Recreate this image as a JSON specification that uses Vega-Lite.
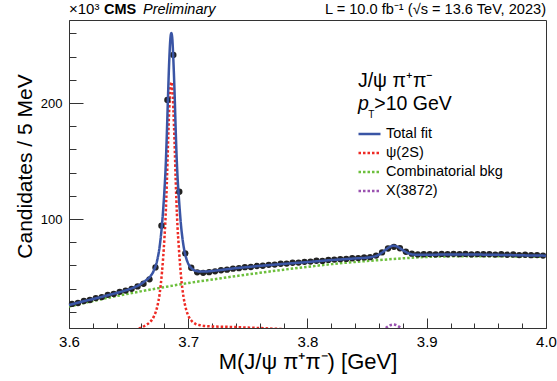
{
  "$schema": "https://vega.github.io/schema/vega-lite/v6.json",
  "width": 477,
  "height": 308,
  "autosize": {"type": "none"},
  "padding": {"left": 69, "top": 20, "right": 11, "bottom": 53},
  "background": "white",
  "config": {
    "font": "Liberation Sans",
    "view": {"stroke": "#333", "strokeWidth": 1},
    "axis": {"domainColor": "#333", "tickColor": "#333", "labelColor": "#000", "titleColor": "#000", "grid": false, "labelFont": "Liberation Sans", "titleFont": "Liberation Sans", "titleFontWeight": "normal", "domainWidth": 1, "tickWidth": 1}
  },
  "resolve": {"axis": {"x": "independent", "y": "independent"}},
  "datasets": {
    "points": [
      {"m": 3.6025, "v": 26.8}, {"m": 3.6075, "v": 27.6}, {"m": 3.6125, "v": 29.3}, {"m": 3.6175, "v": 30.2},
      {"m": 3.6225, "v": 31.8}, {"m": 3.6275, "v": 32.7}, {"m": 3.6325, "v": 34.6}, {"m": 3.6375, "v": 35.4},
      {"m": 3.6425, "v": 37.2}, {"m": 3.6475, "v": 38.3}, {"m": 3.6525, "v": 39.8}, {"m": 3.6575, "v": 41.9},
      {"m": 3.6625, "v": 44.2}, {"m": 3.6675, "v": 48.0}, {"m": 3.6725, "v": 58.3}, {"m": 3.6775, "v": 94.2},
      {"m": 3.6825, "v": 202.6}, {"m": 3.6875, "v": 241.5}, {"m": 3.6925, "v": 123.5}, {"m": 3.6975, "v": 70.4},
      {"m": 3.7025, "v": 58.0}, {"m": 3.7075, "v": 54.0}, {"m": 3.7125, "v": 53.6}, {"m": 3.7175, "v": 54.2},
      {"m": 3.7225, "v": 54.9}, {"m": 3.7275, "v": 55.8}, {"m": 3.7325, "v": 56.3}, {"m": 3.7375, "v": 57.2},
      {"m": 3.7425, "v": 57.6}, {"m": 3.7475, "v": 58.5}, {"m": 3.7525, "v": 58.6}, {"m": 3.7575, "v": 59.5},
      {"m": 3.7625, "v": 59.7}, {"m": 3.7675, "v": 60.5}, {"m": 3.7725, "v": 60.7}, {"m": 3.7775, "v": 61.4},
      {"m": 3.7825, "v": 61.6}, {"m": 3.7875, "v": 62.3}, {"m": 3.7925, "v": 62.4}, {"m": 3.7975, "v": 63.1},
      {"m": 3.8025, "v": 63.3}, {"m": 3.8075, "v": 64.0}, {"m": 3.8125, "v": 63.9}, {"m": 3.8175, "v": 64.7},
      {"m": 3.8225, "v": 65.0}, {"m": 3.8275, "v": 65.4}, {"m": 3.8325, "v": 65.6}, {"m": 3.8375, "v": 66.2},
      {"m": 3.8425, "v": 66.3}, {"m": 3.8475, "v": 66.9}, {"m": 3.8525, "v": 67.1}, {"m": 3.8575, "v": 68.5},
      {"m": 3.8625, "v": 71.2}, {"m": 3.8675, "v": 74.6}, {"m": 3.8725, "v": 76.0}, {"m": 3.8775, "v": 74.8},
      {"m": 3.8825, "v": 71.8}, {"m": 3.8875, "v": 70.1}, {"m": 3.8925, "v": 69.5}, {"m": 3.8975, "v": 69.6},
      {"m": 3.9025, "v": 69.8}, {"m": 3.9075, "v": 69.5}, {"m": 3.9125, "v": 69.9}, {"m": 3.9175, "v": 69.6},
      {"m": 3.9225, "v": 70.0}, {"m": 3.9275, "v": 69.7}, {"m": 3.9325, "v": 69.9}, {"m": 3.9375, "v": 69.5},
      {"m": 3.9425, "v": 69.8}, {"m": 3.9475, "v": 69.6}, {"m": 3.9525, "v": 69.7}, {"m": 3.9575, "v": 69.3},
      {"m": 3.9625, "v": 69.6}, {"m": 3.9675, "v": 69.2}, {"m": 3.9725, "v": 69.4}, {"m": 3.9775, "v": 68.9},
      {"m": 3.9825, "v": 69.2}, {"m": 3.9875, "v": 68.8}, {"m": 3.9925, "v": 68.9}, {"m": 3.9975, "v": 68.5}
    ],
    "curves": [
      {"comp": "Combinatorial bkg", "m": 3.60, "v": 24.5}, {"comp": "Combinatorial bkg", "m": 3.62, "v": 29.3},
      {"comp": "Combinatorial bkg", "m": 3.64, "v": 33.6}, {"comp": "Combinatorial bkg", "m": 3.66, "v": 37.6},
      {"comp": "Combinatorial bkg", "m": 3.68, "v": 41.3}, {"comp": "Combinatorial bkg", "m": 3.70, "v": 44.8},
      {"comp": "Combinatorial bkg", "m": 3.72, "v": 47.8}, {"comp": "Combinatorial bkg", "m": 3.74, "v": 50.8},
      {"comp": "Combinatorial bkg", "m": 3.76, "v": 53.6}, {"comp": "Combinatorial bkg", "m": 3.78, "v": 56.3},
      {"comp": "Combinatorial bkg", "m": 3.80, "v": 58.8}, {"comp": "Combinatorial bkg", "m": 3.82, "v": 61.1},
      {"comp": "Combinatorial bkg", "m": 3.84, "v": 63.0}, {"comp": "Combinatorial bkg", "m": 3.86, "v": 64.6},
      {"comp": "Combinatorial bkg", "m": 3.88, "v": 66.1}, {"comp": "Combinatorial bkg", "m": 3.90, "v": 67.3},
      {"comp": "Combinatorial bkg", "m": 3.92, "v": 67.8}, {"comp": "Combinatorial bkg", "m": 3.94, "v": 67.95},
      {"comp": "Combinatorial bkg", "m": 3.96, "v": 67.9}, {"comp": "Combinatorial bkg", "m": 3.98, "v": 67.7},
      {"comp": "Combinatorial bkg", "m": 4.00, "v": 67.5},
      {"comp": "ψ(2S)", "m": 3.640, "v": 2.7}, {"comp": "ψ(2S)", "m": 3.650, "v": 3.7}, {"comp": "ψ(2S)", "m": 3.655, "v": 4.6},
      {"comp": "ψ(2S)", "m": 3.660, "v": 6.1}, {"comp": "ψ(2S)", "m": 3.664, "v": 8.3}, {"comp": "ψ(2S)", "m": 3.668, "v": 11.2},
      {"comp": "ψ(2S)", "m": 3.671, "v": 15.6}, {"comp": "ψ(2S)", "m": 3.674, "v": 24.4}, {"comp": "ψ(2S)", "m": 3.676, "v": 35.5},
      {"comp": "ψ(2S)", "m": 3.678, "v": 54.5}, {"comp": "ψ(2S)", "m": 3.680, "v": 83}, {"comp": "ψ(2S)", "m": 3.681, "v": 102},
      {"comp": "ψ(2S)", "m": 3.682, "v": 130}, {"comp": "ψ(2S)", "m": 3.683, "v": 163}, {"comp": "ψ(2S)", "m": 3.684, "v": 193},
      {"comp": "ψ(2S)", "m": 3.685, "v": 213}, {"comp": "ψ(2S)", "m": 3.6858, "v": 218}, {"comp": "ψ(2S)", "m": 3.6865, "v": 214.5},
      {"comp": "ψ(2S)", "m": 3.6875, "v": 195}, {"comp": "ψ(2S)", "m": 3.6885, "v": 167}, {"comp": "ψ(2S)", "m": 3.6895, "v": 133},
      {"comp": "ψ(2S)", "m": 3.690, "v": 117.5}, {"comp": "ψ(2S)", "m": 3.691, "v": 93.5}, {"comp": "ψ(2S)", "m": 3.692, "v": 77},
      {"comp": "ψ(2S)", "m": 3.693, "v": 62.5}, {"comp": "ψ(2S)", "m": 3.694, "v": 50}, {"comp": "ψ(2S)", "m": 3.695, "v": 40.5},
      {"comp": "ψ(2S)", "m": 3.696, "v": 33}, {"comp": "ψ(2S)", "m": 3.698, "v": 22.8}, {"comp": "ψ(2S)", "m": 3.700, "v": 16.7},
      {"comp": "ψ(2S)", "m": 3.703, "v": 12}, {"comp": "ψ(2S)", "m": 3.706, "v": 9.6}, {"comp": "ψ(2S)", "m": 3.710, "v": 8.4},
      {"comp": "ψ(2S)", "m": 3.715, "v": 7.7}, {"comp": "ψ(2S)", "m": 3.720, "v": 7.4}, {"comp": "ψ(2S)", "m": 3.730, "v": 7.1},
      {"comp": "ψ(2S)", "m": 3.740, "v": 6.8}, {"comp": "ψ(2S)", "m": 3.750, "v": 6.4}, {"comp": "ψ(2S)", "m": 3.760, "v": 6.0},
      {"comp": "ψ(2S)", "m": 3.780, "v": 5.0},
      {"comp": "X(3872)", "m": 3.852, "v": 0.15}, {"comp": "X(3872)", "m": 3.857, "v": 0.91}, {"comp": "X(3872)", "m": 3.8595, "v": 1.83},
      {"comp": "X(3872)", "m": 3.862, "v": 3.24}, {"comp": "X(3872)", "m": 3.8645, "v": 5.07}, {"comp": "X(3872)", "m": 3.867, "v": 6.97},
      {"comp": "X(3872)", "m": 3.8695, "v": 8.44}, {"comp": "X(3872)", "m": 3.872, "v": 9.0}, {"comp": "X(3872)", "m": 3.8745, "v": 8.44},
      {"comp": "X(3872)", "m": 3.877, "v": 6.97}, {"comp": "X(3872)", "m": 3.8795, "v": 5.07}, {"comp": "X(3872)", "m": 3.882, "v": 3.24},
      {"comp": "X(3872)", "m": 3.8845, "v": 1.83}, {"comp": "X(3872)", "m": 3.887, "v": 0.91}, {"comp": "X(3872)", "m": 3.892, "v": 0.15},
      {"comp": "Total fit", "m": 3.600, "v": 25.8}, {"comp": "Total fit", "m": 3.610, "v": 28.5}, {"comp": "Total fit", "m": 3.620, "v": 31.0},
      {"comp": "Total fit", "m": 3.630, "v": 33.6}, {"comp": "Total fit", "m": 3.640, "v": 36.3}, {"comp": "Total fit", "m": 3.650, "v": 39.3},
      {"comp": "Total fit", "m": 3.655, "v": 41.2}, {"comp": "Total fit", "m": 3.660, "v": 43.7}, {"comp": "Total fit", "m": 3.664, "v": 46.7},
      {"comp": "Total fit", "m": 3.668, "v": 50.3}, {"comp": "Total fit", "m": 3.671, "v": 55.3}, {"comp": "Total fit", "m": 3.674, "v": 64.6},
      {"comp": "Total fit", "m": 3.676, "v": 76.1}, {"comp": "Total fit", "m": 3.678, "v": 95.4}, {"comp": "Total fit", "m": 3.680, "v": 124.3},
      {"comp": "Total fit", "m": 3.681, "v": 143.5}, {"comp": "Total fit", "m": 3.682, "v": 171.7}, {"comp": "Total fit", "m": 3.683, "v": 204.8},
      {"comp": "Total fit", "m": 3.684, "v": 235.0}, {"comp": "Total fit", "m": 3.685, "v": 255.2}, {"comp": "Total fit", "m": 3.6858, "v": 260.3},
      {"comp": "Total fit", "m": 3.6865, "v": 257.0}, {"comp": "Total fit", "m": 3.6875, "v": 237.6}, {"comp": "Total fit", "m": 3.6885, "v": 209.8},
      {"comp": "Total fit", "m": 3.6895, "v": 176.0}, {"comp": "Total fit", "m": 3.690, "v": 160.6}, {"comp": "Total fit", "m": 3.691, "v": 136.8},
      {"comp": "Total fit", "m": 3.692, "v": 120.4}, {"comp": "Total fit", "m": 3.693, "v": 106.1}, {"comp": "Total fit", "m": 3.694, "v": 93.8},
      {"comp": "Total fit", "m": 3.695, "v": 84.5}, {"comp": "Total fit", "m": 3.696, "v": 77.1}, {"comp": "Total fit", "m": 3.698, "v": 67.3},
      {"comp": "Total fit", "m": 3.700, "v": 61.5}, {"comp": "Total fit", "m": 3.703, "v": 57.3}, {"comp": "Total fit", "m": 3.706, "v": 55.3},
      {"comp": "Total fit", "m": 3.710, "v": 54.7}, {"comp": "Total fit", "m": 3.715, "v": 54.75}, {"comp": "Total fit", "m": 3.720, "v": 55.2},
      {"comp": "Total fit", "m": 3.730, "v": 56.4}, {"comp": "Total fit", "m": 3.740, "v": 57.6}, {"comp": "Total fit", "m": 3.750, "v": 58.6},
      {"comp": "Total fit", "m": 3.760, "v": 59.6}, {"comp": "Total fit", "m": 3.780, "v": 61.3}, {"comp": "Total fit", "m": 3.800, "v": 62.9},
      {"comp": "Total fit", "m": 3.820, "v": 64.6}, {"comp": "Total fit", "m": 3.840, "v": 66.0}, {"comp": "Total fit", "m": 3.850, "v": 66.7},
      {"comp": "Total fit", "m": 3.855, "v": 67.4}, {"comp": "Total fit", "m": 3.860, "v": 69.3}, {"comp": "Total fit", "m": 3.8645, "v": 72.6},
      {"comp": "Total fit", "m": 3.867, "v": 74.6}, {"comp": "Total fit", "m": 3.8695, "v": 76.2}, {"comp": "Total fit", "m": 3.872, "v": 76.9},
      {"comp": "Total fit", "m": 3.8745, "v": 76.5}, {"comp": "Total fit", "m": 3.877, "v": 75.2}, {"comp": "Total fit", "m": 3.8795, "v": 73.4},
      {"comp": "Total fit", "m": 3.882, "v": 71.8}, {"comp": "Total fit", "m": 3.8845, "v": 70.5}, {"comp": "Total fit", "m": 3.887, "v": 69.7},
      {"comp": "Total fit", "m": 3.892, "v": 69.15}, {"comp": "Total fit", "m": 3.900, "v": 69.2}, {"comp": "Total fit", "m": 3.920, "v": 69.4},
      {"comp": "Total fit", "m": 3.940, "v": 69.35}, {"comp": "Total fit", "m": 3.960, "v": 69.1}, {"comp": "Total fit", "m": 3.980, "v": 68.7},
      {"comp": "Total fit", "m": 4.000, "v": 68.4}
    ],
    "notes": [
      {"t": "note"}
    ]
  },
  "layer": [
    {
      "data": {"name": "curves"},
      "transform": [{"filter": "datum.comp !== 'Total fit'"}],
      "mark": {"type": "line", "clip": true, "strokeWidth": 2.5, "interpolate": "monotone"},
      "encoding": {
        "x": {"field": "m", "type": "quantitative", "scale": {"domain": [3.6, 4.0], "nice": false, "zero": false}, "axis": null},
        "y": {"field": "v", "type": "quantitative", "scale": {"domain": [6.03, 271.6], "nice": false, "zero": false}, "axis": null},
        "color": {"field": "comp", "type": "nominal", "scale": {"domain": ["Total fit", "ψ(2S)", "Combinatorial bkg", "X(3872)"], "range": ["#3a55a5", "#ee2a24", "#6cbf3c", "#9a52b0"]},
          "legend": {"orient": "none", "legendX": 288, "legendY": 101.5, "title": null, "symbolType": "stroke", "symbolSize": 484, "symbolStrokeWidth": 2.5, "labelFontSize": 14.5, "labelFont": "Liberation Sans", "labelOffset": 4, "rowPadding": -0.6, "padding": 0, "labelColor": "#000"}},
        "strokeDash": {"field": "comp", "type": "nominal", "scale": {"domain": ["Total fit", "ψ(2S)", "Combinatorial bkg", "X(3872)"], "range": [[1, 0], [2.5, 2], [2.5, 2], [2.5, 2]]},
          "legend": {"orient": "none", "legendX": 288, "legendY": 101.5, "title": null, "symbolType": "stroke", "symbolSize": 484, "symbolStrokeWidth": 2.5, "labelFontSize": 14.5, "labelFont": "Liberation Sans", "labelOffset": 4, "rowPadding": -0.6, "padding": 0, "labelColor": "#000"}}
      }
    },
    {
      "data": {"name": "points"},
      "mark": {"type": "circle", "size": 40, "color": "#222", "opacity": 1},
      "encoding": {
        "x": {"field": "m", "type": "quantitative",
          "axis": {"values": [3.6, 3.62, 3.64, 3.66, 3.68, 3.7, 3.72, 3.74, 3.76, 3.78, 3.8, 3.82, 3.84, 3.86, 3.88, 3.9, 3.92, 3.94, 3.96, 3.98, 4.0], "labelExpr": "abs(datum.value*10 - round(datum.value*10)) < 0.01 ? format(datum.value, '.1f') : ''", "tickSize": {"condition": {"test": "abs(datum.value*10 - round(datum.value*10)) < 0.01", "value": -10}, "value": -5}, "labelPadding": 16, "labelFontSize": 15, "labelOverlap": false, "labelFlush": false, "labelBaseline": "top", "title": "M(J/ψ π⁺π⁻) [GeV]", "titleFontSize": 22, "titleY": 40, "titleBaseline": "alphabetic"}},
        "y": {"field": "v", "type": "quantitative",
          "axis": {"values": [20, 40, 60, 80, 100, 120, 140, 160, 180, 200, 220, 240, 260], "labelExpr": "datum.value % 100 === 0 ? datum.label : ''", "tickSize": {"condition": {"test": "datum.value % 100 === 0", "value": -14}, "value": -7}, "labelPadding": 21, "labelFontSize": 13, "labelOverlap": false, "labelFlush": false, "title": "Candidates / 5 MeV", "titleFontSize": 21, "titleX": -44, "titleY": 146, "titleAlign": "center", "titleBaseline": "middle", "titleAngle": -90}}
      }
    },
    {
      "data": {"name": "curves"},
      "transform": [{"filter": "datum.comp === 'Total fit'"}],
      "mark": {"type": "line", "clip": true, "strokeWidth": 2.5, "interpolate": "monotone"},
      "encoding": {
        "x": {"field": "m", "type": "quantitative", "axis": null},
        "y": {"field": "v", "type": "quantitative", "axis": null},
        "color": {"field": "comp", "type": "nominal"},
        "strokeDash": {"field": "comp", "type": "nominal"}
      }
    },
    {
      "data": {"name": "notes"},
      "layer": [
        {"mark": {"type": "text", "text": "×10³", "align": "left", "baseline": "alphabetic", "fontSize": 15, "font": "Liberation Sans", "color": "#000"},
         "encoding": {"x": {"datum": 3.6, "type": "quantitative", "axis": null}, "y": {"datum": 277, "type": "quantitative", "axis": null}}},
        {"mark": {"type": "text", "text": "CMS", "align": "left", "baseline": "alphabetic", "fontSize": 14.5, "fontWeight": "bold", "font": "Liberation Sans", "color": "#000"},
         "encoding": {"x": {"datum": 3.6294, "type": "quantitative", "axis": null}, "y": {"datum": 277, "type": "quantitative", "axis": null}}},
        {"mark": {"type": "text", "text": "Preliminary", "align": "left", "baseline": "alphabetic", "fontSize": 14.5, "fontStyle": "italic", "font": "Liberation Sans", "color": "#000"},
         "encoding": {"x": {"datum": 3.6621, "type": "quantitative", "axis": null}, "y": {"datum": 277, "type": "quantitative", "axis": null}}},
        {"mark": {"type": "text", "text": "L = 10.0 fb⁻¹ (√s = 13.6 TeV, 2023)", "align": "right", "baseline": "alphabetic", "fontSize": 14.6, "font": "Liberation Sans", "color": "#000"},
         "encoding": {"x": {"datum": 4.0, "type": "quantitative", "axis": null}, "y": {"datum": 277, "type": "quantitative", "axis": null}}},
        {"mark": {"type": "text", "text": "J/ψ π⁺π⁻", "align": "left", "baseline": "alphabetic", "fontSize": 19.5, "font": "Liberation Sans", "color": "#000"},
         "encoding": {"x": {"datum": 3.8423, "type": "quantitative", "axis": null}, "y": {"datum": 213.4, "type": "quantitative", "axis": null}}},
        {"mark": {"type": "text", "text": "p", "align": "left", "baseline": "alphabetic", "fontSize": 19.5, "fontStyle": "italic", "font": "Liberation Sans", "color": "#000"},
         "encoding": {"x": {"datum": 3.8423, "type": "quantitative", "axis": null}, "y": {"datum": 194.0, "type": "quantitative", "axis": null}}},
        {"mark": {"type": "text", "text": "T", "align": "left", "baseline": "alphabetic", "fontSize": 10, "font": "Liberation Sans", "color": "#000"},
         "encoding": {"x": {"datum": 3.851, "type": "quantitative", "axis": null}, "y": {"datum": 187.0, "type": "quantitative", "axis": null}}},
        {"mark": {"type": "text", "text": ">10 GeV", "align": "left", "baseline": "alphabetic", "fontSize": 19.5, "font": "Liberation Sans", "color": "#000"},
         "encoding": {"x": {"datum": 3.8560, "type": "quantitative", "axis": null}, "y": {"datum": 194.0, "type": "quantitative", "axis": null}}}
      ]
    }
  ]
}
